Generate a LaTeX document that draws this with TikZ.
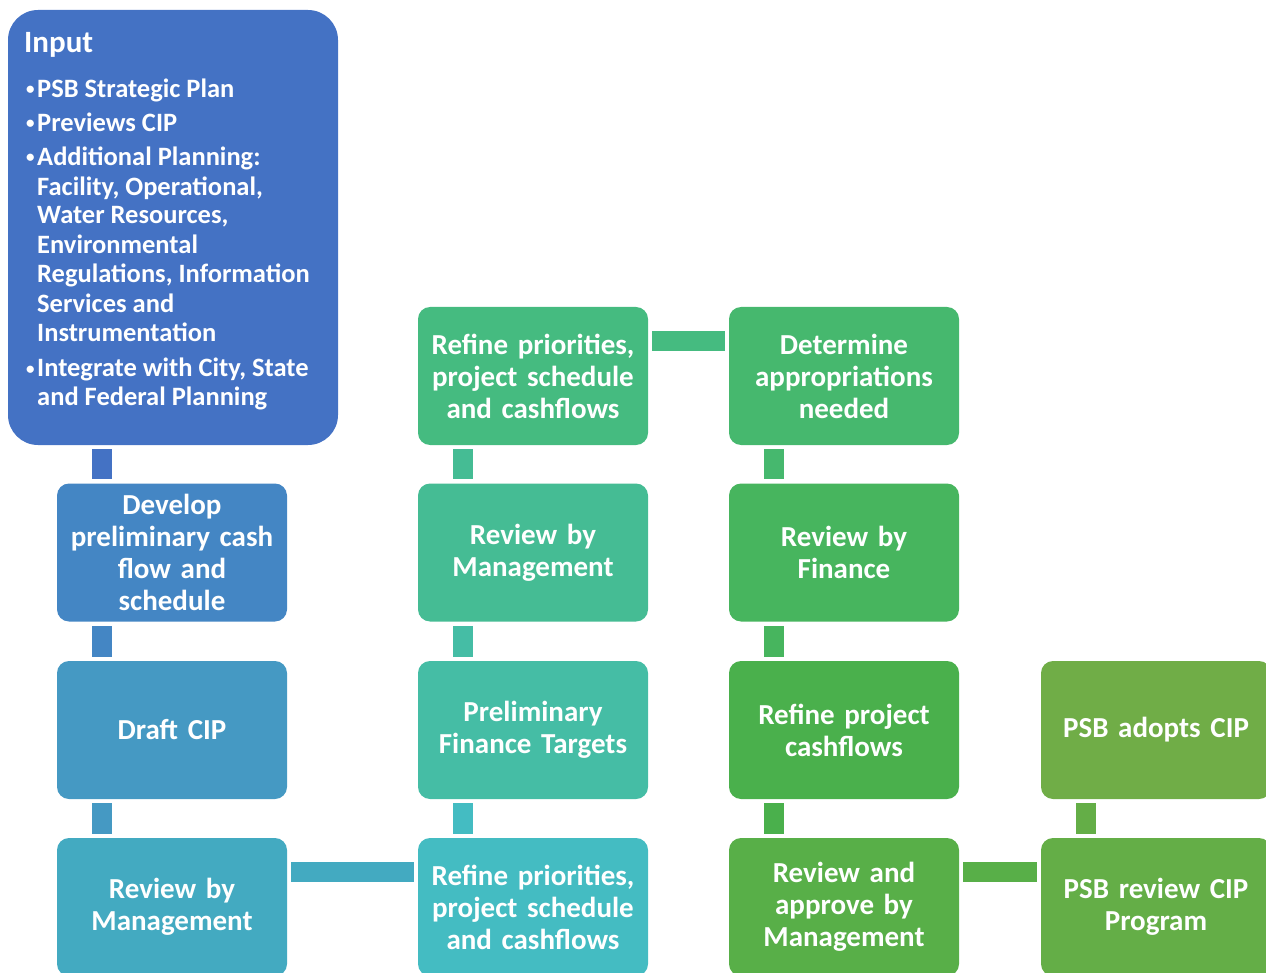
\documentclass[tikz,border=0pt]{standalone}
\usepackage{fontspec}
\setmainfont{Carlito}
\usetikzlibrary{calc}
\definecolor{cA}{HTML}{4472C4}
\definecolor{cB}{HTML}{4486C4}
\definecolor{cC}{HTML}{4599C3}
\definecolor{cD}{HTML}{43AAC1}
\definecolor{cE}{HTML}{44BCC2}
\definecolor{cF}{HTML}{45BDA5}
\definecolor{cG}{HTML}{45BC94}
\definecolor{cH}{HTML}{45BB80}
\definecolor{cI}{HTML}{46B86E}
\definecolor{cJ}{HTML}{47B55E}
\definecolor{cK}{HTML}{4AB04C}
\definecolor{cL}{HTML}{58AF48}
\definecolor{cM}{HTML}{64AE47}
\definecolor{cN}{HTML}{70AD47}
\newcommand\vconn[3]{\fill[#3] ($(#1.south -| #2.west)+(35,4)$) rectangle ($(#2.north west)+(55,-4)$);}
\newcommand\hconn[3]{\fill[#3] ($(#1.north east)+(4,24)$) rectangle ($(#2.north west)+(-4,44)$);}
\begin{document}
\begin{tikzpicture}[x=1pt,y=-1pt,
  stepbox/.style={rounded corners=12, minimum width=230, minimum height=138, inner sep=0,
    text width=224, align=center, text=white, font=\fontsize{29}{32}\selectfont\bfseries},
  inbox/.style={rounded corners=30, minimum width=330, minimum height=435, inner sep=0},
  intext/.style={anchor=base west, inner sep=0, text=white, font=\fontsize{26.5}{29}\selectfont\bfseries},
  bullet/.style={anchor=base west, inner sep=0, text=white, font=\fontsize{17}{17}\selectfont\bfseries}]
\useasboundingbox (0,0) rectangle (1266,973);
\clip (0,0) rectangle (1266,973);
% input box
\node[inbox, fill=cA] (in) at (173,227.5) {};
\node[intext, font=\fontsize{31}{34}\selectfont\bfseries] (title) at (24,53) {Input};
\foreach \y [count=\i] in {95, 129, 163, 374}
  {\node[bullet] (b\i) at (26,\y) {•};}
\foreach \y/\t [count=\i] in {98/PSB Strategic Plan, 132/Previews CIP, 166/Additional Planning:, 196/{Facility, Operational,}, 224/{Water Resources,}, 254/Environmental, 283/{Regulations, Information}, 313/Services and, 342/Instrumentation, 377/{Integrate with City, State}, 405/and Federal Planning}
  {\node[intext] (t\i) at (37,\y) {\t};}
% column 1
\node[stepbox, fill=cB] (dev) at (172,552.5) {Develop\\preliminary cash\\flow and\\schedule};
\node[stepbox, fill=cC] (draft) at (172,730) {Draft CIP};
\node[stepbox, fill=cD] (rm1) at (172,907) {Review by\\Management};
% column 2
\node[stepbox, fill=cE] (rf1) at (533,907) {Refine priorities,\\project schedule\\and cashflows};
\node[stepbox, fill=cF] (pft) at (533,730) {Preliminary\\Finance Targets};
\node[stepbox, fill=cG] (rm2) at (533,552.5) {Review by\\Management};
\node[stepbox, fill=cH] (rf2) at (533,376) {Refine priorities,\\project schedule\\and cashflows};
% column 3
\node[stepbox, fill=cI] (det) at (844,376) {Determine\\appropriations\\needed};
\node[stepbox, fill=cJ] (rfin) at (844,552.5) {Review by\\Finance};
\node[stepbox, fill=cK] (rpc) at (844,730) {Refine project\\cashflows};
\node[stepbox, fill=cL] (rap) at (844,907) {Review and\\approve by\\Management};
% column 4
\node[stepbox, fill=cM] (psbr) at (1156,907) {PSB review CIP\\Program};
\node[stepbox, fill=cN] (psba) at (1156,730) {PSB adopts CIP};
% connectors
\vconn{in}{dev}{cA}
\vconn{dev}{draft}{cB}
\vconn{draft}{rm1}{cC}
\hconn{rm1}{rf1}{cD}
\vconn{pft}{rf1}{cE}
\vconn{rm2}{pft}{cF}
\vconn{rf2}{rm2}{cG}
\hconn{rf2}{det}{cH}
\vconn{det}{rfin}{cI}
\vconn{rfin}{rpc}{cJ}
\vconn{rpc}{rap}{cK}
\hconn{rap}{psbr}{cL}
\vconn{psba}{psbr}{cM}
\end{tikzpicture}
\end{document}
